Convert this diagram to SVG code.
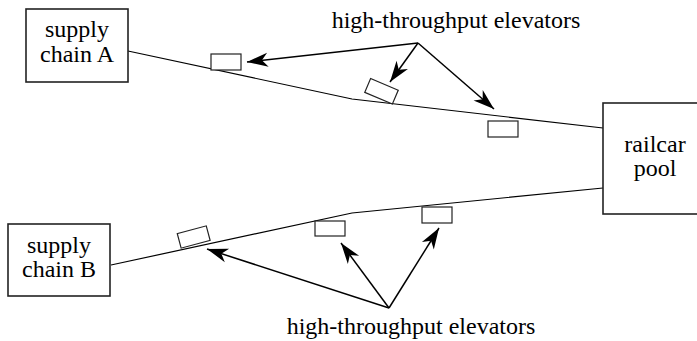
<svg xmlns="http://www.w3.org/2000/svg" width="697" height="341" viewBox="0 0 697 341">
<style>
.box{fill:#fff;stroke:#222;stroke-width:1.6}
.elev{fill:#fff;stroke:#222;stroke-width:1.2}
.track{fill:none;stroke:#000;stroke-width:1.2}
.arr{fill:none;stroke:#000;stroke-width:1.5}
.t{font-family:'Liberation Serif','DejaVu Serif',serif;font-size:24px;fill:#000;text-anchor:middle}
</style>
<defs>
<marker id="ah" markerUnits="userSpaceOnUse" markerWidth="26" markerHeight="18" viewBox="-23 -9 26 18" refX="0" refY="0" orient="auto">
<path d="M0,0 L-21,-7 L-15,0 L-21,7 Z" fill="#000"/>
</marker>
</defs>
<g id="tracks">
<polyline class="track" points="128,51 352,99 603,128"/>
<polyline class="track" points="111,265 352,213 603,188"/>
</g>
<g id="supply-chain-a">
<rect class="box" x="26" y="9" width="102" height="73"/>
<text class="t" font-family="Liberation Serif, serif" x="77" y="37">supply</text>
<text class="t" font-family="Liberation Serif, serif" x="77" y="62">chain A</text>
</g>
<g id="supply-chain-b">
<rect class="box" x="8" y="224" width="102" height="72"/>
<text class="t" font-family="Liberation Serif, serif" x="59" y="253">supply</text>
<text class="t" font-family="Liberation Serif, serif" x="59" y="277">chain B</text>
</g>
<g id="railcar-pool">
<rect class="box" x="603" y="103" width="103" height="111"/>
<text class="t" font-family="Liberation Serif, serif" x="655" y="152">railcar</text>
<text class="t" font-family="Liberation Serif, serif" x="655" y="176">pool</text>
</g>
<g id="elevators-a">
<rect class="elev" x="211" y="54" width="30" height="16"/>
<rect class="elev" x="-15" y="-7.5" width="30" height="15" transform="translate(381.5,91.3) rotate(23)"/>
<rect class="elev" x="488" y="121" width="30" height="16"/>
</g>
<g id="elevators-b">
<rect class="elev" x="-15" y="-7.5" width="30" height="15" transform="translate(193.7,237) rotate(-15)"/>
<rect class="elev" x="315" y="221" width="30" height="15"/>
<rect class="elev" x="422" y="207" width="30" height="16"/>
</g>
<g id="label-top">
<text class="t" font-family="Liberation Serif, serif" x="456" y="28">high-throughput elevators</text>
</g>
<g id="label-bottom">
<text class="t" font-family="Liberation Serif, serif" x="411" y="334">high-throughput elevators</text>
</g>
<g id="connectors">
<line class="arr" x1="418" y1="43" x2="247" y2="62" marker-end="url(#ah)"/>
<line class="arr" x1="418" y1="43" x2="390" y2="82" marker-end="url(#ah)"/>
<line class="arr" x1="418" y1="43" x2="494" y2="109" marker-end="url(#ah)"/>
<line class="arr" x1="389" y1="308" x2="207" y2="249" marker-end="url(#ah)"/>
<line class="arr" x1="389" y1="308" x2="341" y2="243" marker-end="url(#ah)"/>
<line class="arr" x1="389" y1="308" x2="439" y2="228" marker-end="url(#ah)"/>
</g>
</svg>
